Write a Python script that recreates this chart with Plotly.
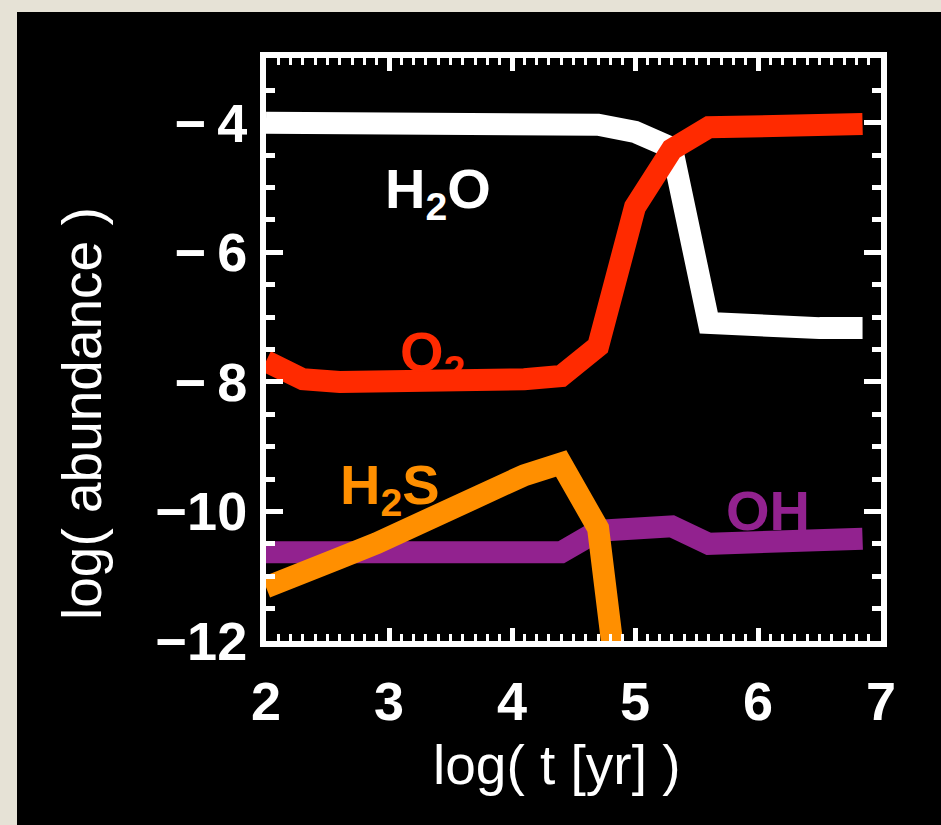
import plotly.graph_objects as go

# ---- data ----
log_t = [2.0, 2.3, 2.6, 2.9, 3.2, 3.5, 3.8, 4.1, 4.4, 4.7, 5.0, 5.3, 5.6, 5.9, 6.2, 6.5, 6.85]
h2o = [-4.0, -4.0, -4.0, -4.0, -4.0, -4.0, -4.0, -4.0, -4.0, -4.03, -4.14, -4.39, -7.09, -7.13, -7.16, -7.17, -7.17]
o2 = [-7.68, -7.96, -8.0, -8.0, -8.0, -8.0, -8.0, -7.96, -7.91, -7.45, -5.3, -4.41, -4.07, -4.06, -4.02, -4.02, -4.02]
oh = [-10.63, -10.63, -10.63, -10.63, -10.63, -10.63, -10.63, -10.63, -10.63, -10.3, -10.26, -10.23, -10.5, -10.47, -10.44, -10.43, -10.42]
log_t_h2s = [2.0, 2.3, 2.6, 2.9, 3.2, 3.5, 3.8, 4.1, 4.4, 4.7, 5.0]
h2s = [-11.17, -10.98, -10.72, -10.49, -10.21, -9.93, -9.64, -9.44, -9.26, -10.26, -14.9]

x_ticks = [2, 3, 4, 5, 6, 7]
x_ticktext = ["2", "3", "4", "5", "6", "7"]
y_ticks = [-12, -10, -8, -6, -4]
y_ticktext = ["\u221212", "\u221210", "\u2212\u20098", "\u2212\u20096", "\u2212\u20094"]

WHITE = "#ffffff"
RED = "#ff2a00"
ORANGE = "#ff8f00"
PURPLE = "#92228f"

W, H = 941, 825
L, R, T, B = 266, 60, 58, 184
PW, PH = W - L - R, H - T - B


def px_x(p):
    return (p - L) / PW


def px_y(p):
    return (H - B - p) / PH


fig = go.Figure()
fig.add_trace(go.Scatter(x=log_t, y=h2o, mode="lines", line=dict(color=WHITE, width=22), showlegend=False))
fig.add_trace(go.Scatter(x=log_t, y=o2, mode="lines", line=dict(color=RED, width=22), showlegend=False))
fig.add_trace(go.Scatter(x=log_t, y=oh, mode="lines", line=dict(color=PURPLE, width=22), showlegend=False))
fig.add_trace(go.Scatter(x=log_t_h2s, y=h2s, mode="lines", line=dict(color=ORANGE, width=22), showlegend=False))

font_fam = "Liberation Sans, Arial, Helvetica, sans-serif"

labels = [
    ("H<sub>2</sub>O", 3.40, -5.07, WHITE),
    ("O<sub>2</sub>", 3.35, -7.60, RED),
    ("H<sub>2</sub>S", 3.01, -9.64, ORANGE),
    ("OH", 6.08, -9.98, PURPLE),
]
for txt, lx, ly, col in labels:
    fig.add_annotation(x=lx, y=ly, xref="x", yref="y", text=txt, showarrow=False,
                       font=dict(family=font_fam, size=56, color=col, weight="bold"),
                       xanchor="center", yanchor="middle")

fig.add_annotation(x=px_x(557), y=px_y(765), xref="paper", yref="paper", text="log( t [yr] )",
                   showarrow=False, font=dict(family=font_fam, size=55, color=WHITE),
                   xanchor="center", yanchor="middle")
fig.add_annotation(x=px_x(82), y=px_y(414), xref="paper", yref="paper", text="log( abundance )",
                   textangle=-90, showarrow=False, font=dict(family=font_fam, size=55, color=WHITE),
                   xanchor="center", yanchor="middle")

# black panel over beige border
fig.add_shape(type="rect", xref="paper", yref="paper", layer="below",
              x0=px_x(17), x1=px_x(W + 5), y0=px_y(H + 5), y1=px_y(12),
              fillcolor="#000000", line=dict(width=0))

axis_common = dict(
    showgrid=False, zeroline=False, showline=True, linecolor=WHITE, linewidth=6,
    mirror="allticks", ticks="inside", tickcolor=WHITE,
    tickfont=dict(family=font_fam, size=54, color=WHITE, weight="bold"),
)

fig.update_xaxes(range=[2, 7], tickmode="array", tickvals=x_ticks, ticktext=x_ticktext,
                 ticklen=13, tickwidth=5, ticklabelstandoff=8,
                 minor=dict(dtick=0.1, tick0=2, ticklen=7, tickwidth=3, ticks="inside",
                            tickcolor=WHITE, showgrid=False),
                 **axis_common)
fig.update_yaxes(range=[-12, -3], tickmode="array", tickvals=y_ticks, ticktext=y_ticktext,
                 ticklen=17, tickwidth=5, ticklabelstandoff=2,
                 minor=dict(dtick=0.5, tick0=-12, ticklen=9, tickwidth=5, ticks="inside",
                            tickcolor=WHITE, showgrid=False),
                 **axis_common)

fig.update_layout(
    width=W, height=H,
    margin=dict(l=L, r=R, t=T, b=B),
    paper_bgcolor="#e6e2d6",
    plot_bgcolor="#000000",
    showlegend=False,
)

fig.write_html(
    "out.html",
    config={"displayModeBar": False},
    post_script="document.body.style.margin='0';document.body.style.overflow='hidden';",
)
